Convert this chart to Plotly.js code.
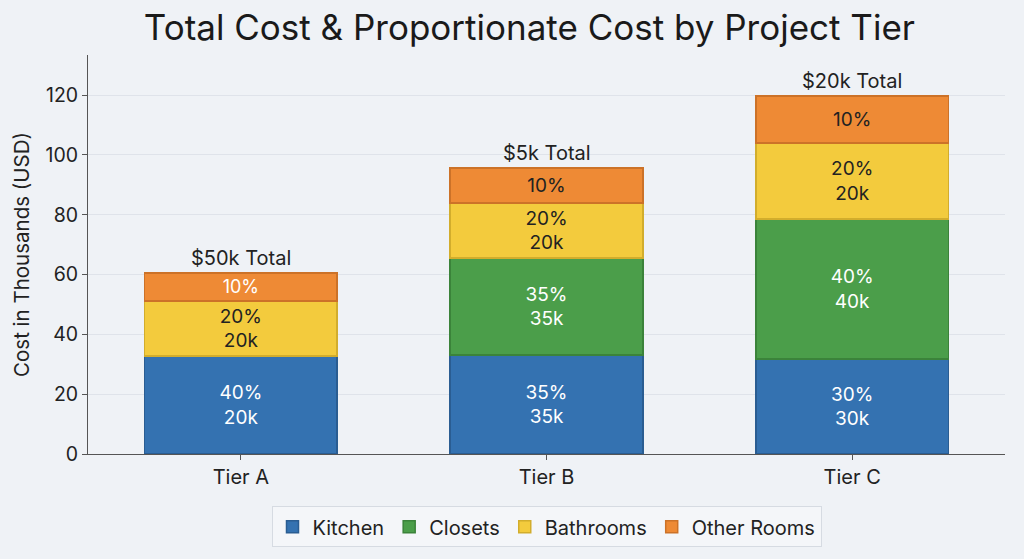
<!DOCTYPE html>
<html>
<head>
<meta charset="utf-8">
<script src="https://cdn.plot.ly/plotly-3.0.1.min.js"></script>
<style>html,body{margin:0;padding:0;background:#eff2f6;}#chart{width:1024px;height:559px;}</style>
</head>
<body>
<div id="chart"></div>
<script>
const tiers = ["Tier A", "Tier B", "Tier C"];
const kitchen = [32.8, 33.1, 31.8];
const closets = [0, 32.4, 46.8];
const bathrooms = [18.4, 18.5, 25.4];
const otherRooms = [9.3, 11.6, 15.7];
const kitchenLabels = ["40%<br>20k", "35%<br>35k", "30%<br>30k"];
const closetsLabels = ["", "35%<br>35k", "40%<br>40k"];
const bathroomsLabels = ["20%<br>20k", "20%<br>20k", "20%<br>20k"];
const otherLabels = ["10%", "10%", "10%"];
const totalLabels = ["$50k Total", "$5k Total", "$20k Total"];

const FONT = "Inter, 'Noto Sans', 'DejaVu Sans', sans-serif";

function bar(name, y, text, color, line, txtColors) {
  return {
    type: "bar", name: name, x: tiers, y: y, text: text,
    textposition: "inside", insidetextanchor: "middle", textangle: 0,
    textfont: {family: FONT, size: 19, color: txtColors},
    marker: {color: color, line: {color: line, width: 1.5}},
    hoverinfo: "skip", width: 0.63
  };
}

const data = [
  bar("Kitchen", kitchen, kitchenLabels, "#3472b1", "#2a5d92", ["#ffffff","#ffffff","#ffffff"]),
  bar("Closets", closets, closetsLabels, "#4b9e4a", "#3b833a", ["#ffffff","#ffffff","#ffffff"]),
  bar("Bathrooms", bathrooms, bathroomsLabels, "#f3cb3d", "#d2ad2c", ["#222222","#222222","#222222"]),
  bar("Other Rooms", otherRooms, otherLabels, "#ee8a35", "#cc7228", ["#ffffff","#222222","#222222"])
];

const totals = tiers.map((t, i) => kitchen[i] + closets[i] + bathrooms[i] + otherRooms[i]);
const annotations = tiers.map((t, i) => ({
  x: t, y: totals[i], text: totalLabels[i], showarrow: false,
  yanchor: "bottom", yshift: 1, font: {family: FONT, size: 20, color: "#222222"}
}));

const layout = {
  width: 1024, height: 559,
  paper_bgcolor: "#eff2f6", plot_bgcolor: "#eff2f6",
  margin: {l: 88, r: 19, t: 55, b: 105, autoexpand: false},
  barmode: "stack",
  font: {family: FONT, color: "#222222"},
  title: {text: "Total Cost & Proportionate Cost by Project Tier", font: {family: FONT, size: 35, color: "#1a1a1a"}, x: 0.517, xanchor: "center", y: 0.95, yanchor: "middle"},
  xaxis: {
    showline: true, linecolor: "#555555", linewidth: 1, automargin: false,
    ticks: "outside", ticklen: 5, tickcolor: "#555555",
    tickfont: {family: FONT, size: 20, color: "#222222"},
    showgrid: false
  },
  yaxis: {
    range: [0, 133.4], tickvals: [0, 20, 40, 60, 80, 100, 120], automargin: false,
    showline: true, linecolor: "#555555", linewidth: 1,
    ticks: "outside", ticklen: 5, tickcolor: "#555555",
    gridcolor: "#dfe3ea", gridwidth: 1, zeroline: false,
    tickfont: {family: FONT, size: 19.5, color: "#222222"},
    title: {text: "Cost in Thousands (USD)", font: {family: FONT, size: 20.5, color: "#222222"}, standoff: 10}
  },
  legend: {
    orientation: "h", x: 0.5, xanchor: "center", y: -0.131, yanchor: "top",
    bgcolor: "#f4f6f9", bordercolor: "#d6dbe2", borderwidth: 1,
    font: {family: FONT, size: 20, color: "#222222"}, traceorder: "normal",
    itemwidth: 30
  },
  annotations: annotations,
  uniformtext: {mode: false}
};

Plotly.newPlot("chart", data, layout, {displayModeBar: false, staticPlot: true});
</script>
</body>
</html>
